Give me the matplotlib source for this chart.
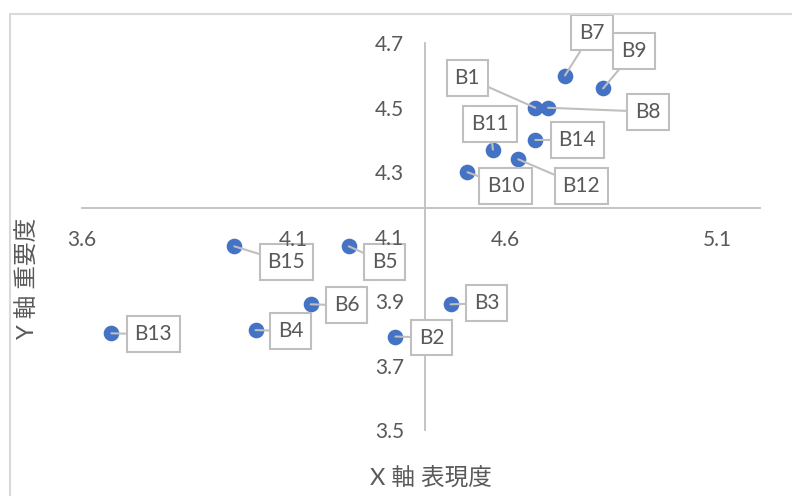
import matplotlib.pyplot as plt
from matplotlib.patches import Rectangle

plt.rcParams['font.family'] = ['Lato', 'Noto Sans CJK JP', 'DejaVu Sans']

# data
labels = ['B1', 'B2', 'B3', 'B4', 'B5', 'B6', 'B7', 'B8', 'B9', 'B10',
          'B11', 'B12', 'B13', 'B14', 'B15']
perf = [4.67, 4.34, 4.47, 4.01, 4.23, 4.14, 4.74, 4.70, 4.83, 4.51,
        4.57, 4.63, 3.67, 4.67, 3.96]
imp = [4.50, 3.79, 3.89, 3.81, 4.07, 3.89, 4.60, 4.50, 4.56, 4.30,
       4.37, 4.34, 3.80, 4.40, 4.07]
x_ticks = [3.6, 4.1, 4.6, 5.1]
y_ticks = [3.5, 3.7, 3.9, 4.1, 4.3, 4.5, 4.7]
x_cross = 4.41
y_cross = 4.19

# callout offsets in pixels (dx right, dy up)
offsets = {
    'B1': (-68, 30), 'B2': (36, -1), 'B3': (36, 1), 'B4': (35, -1),
    'B5': (36, -16), 'B6': (36, -1), 'B7': (27, 43), 'B8': (100, -4),
    'B9': (31, 37), 'B10': (38, -14), 'B11': (-3, 26), 'B12': (63, -27),
    'B13': (42, -1), 'B14': (42, 0), 'B15': (52, -16),
}

grey = '#595959'
line_grey = '#BFBFBF'

fig = plt.figure(figsize=(7.92, 4.96), dpi=100)
ax = fig.add_axes([81.7 / 792, 66 / 496, 678.3 / 792, 386.7 / 496])

ax.scatter(perf, imp, s=105, color='#4472C4', zorder=3)

ax.set_xlim(3.6, 5.2)
ax.set_ylim(3.5, 4.7)
ax.set_xticks(x_ticks)
ax.set_yticks(y_ticks)
ax.set_xticklabels([f'{v:.1f}' for v in x_ticks])
ax.set_yticklabels([f'{v:.1f}' for v in y_ticks])

ax.spines['top'].set_visible(False)
ax.spines['right'].set_visible(False)
ax.spines['left'].set_position(('data', x_cross))
ax.spines['bottom'].set_position(('data', y_cross))
for side in ['left', 'bottom']:
    ax.spines[side].set_color(line_grey)
    ax.spines[side].set_linewidth(1.3)
ax.tick_params(axis='both', length=0, labelsize=15, labelcolor=grey)
ax.tick_params(axis='x', pad=16)
ax.tick_params(axis='y', pad=15)
# tick labels sit above the callout boxes, as in the original
ax.xaxis.set_zorder(5)
ax.yaxis.set_zorder(5)

# data callouts
for name, x, y in zip(labels, perf, imp):
    dx, dy = offsets[name]
    ax.annotate(name, (x, y), xytext=(dx * 0.72, dy * 0.72),
                textcoords='offset points', ha='center', va='center',
                fontsize=15, color=grey, annotation_clip=False, zorder=4,
                bbox=dict(boxstyle='square,pad=0.38', fc='white',
                          ec=line_grey, lw=1.5),
                arrowprops=dict(arrowstyle='-', color=line_grey, lw=1.5,
                                shrinkA=0, shrinkB=0))

fig.text(431 / 792, 1 - 479 / 496, 'X 軸 表現度', fontsize=17, color=grey,
         ha='center', va='center')
fig.text(28 / 792, 1 - 278 / 496, 'Y 軸 重要度', fontsize=17, color=grey,
         ha='center', va='center', rotation=90)

# chart area border (only top and left edges show)
fig.patches.append(Rectangle((10 / 792, -0.1), 1.2, 1.1 - 14 / 496,
                             transform=fig.transFigure, fill=False,
                             ec='#D9D9D9', lw=1.5))

fig.savefig('out.png', dpi=100)
